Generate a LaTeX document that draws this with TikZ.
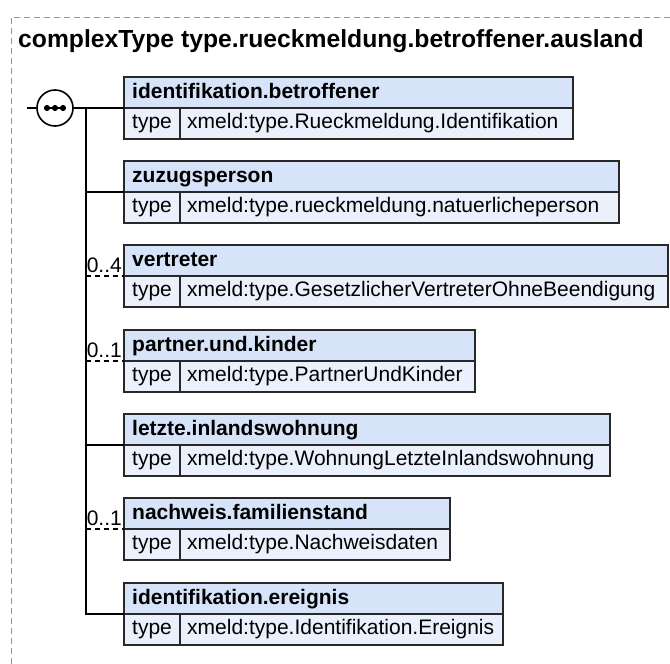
\documentclass[tikz,border=0pt]{standalone}
\usepackage{fontspec}
\setmainfont{Liberation Sans}
\definecolor{hdrfill}{RGB}{214,227,248}
\definecolor{rowfill}{RGB}{234,241,252}
\definecolor{boxline}{RGB}{40,40,40}
\definecolor{framegray}{RGB}{150,150,150}
\newcommand\xsdelem[5]{%
  \node[hdrbox, minimum width={#3-124}, anchor=north west] (#1h) at (124,-#2) {};
  \node[rowbox, minimum width=56, anchor=north west] (#1a) at (#1h.south west) {};
  \node[rowbox, minimum width={#3-180}, anchor=north west] (#1b) at (#1a.north east) {};
  \node[hdrtext] (#1ht) at ([xshift=8,yshift=10]#1h.south west) {#4};
  \node[rowtext] (#1at) at ([xshift=8,yshift=11]#1a.south west) {type};
  \node[rowtext] (#1bt) at ([xshift=7,yshift=11]#1b.south west) {#5};
}
\begin{document}
\begin{tikzpicture}[x=1pt,y=1pt,
  hdrbox/.style={draw=boxline, line width=1.4pt, fill=hdrfill, minimum height=31, inner sep=0, outer sep=0},
  rowbox/.style={draw=boxline, line width=1.4pt, fill=rowfill, minimum height=31, inner sep=0, outer sep=0},
  hdrtext/.style={anchor=base west, inner sep=0, font=\fontsize{21}{25}\selectfont\bfseries},
  rowtext/.style={anchor=base west, inner sep=0, font=\fontsize{21}{25}\selectfont},
  cardtext/.style={anchor=base east, inner sep=0, font=\fontsize{21}{25}\selectfont},
  conn/.style={line width=1.6pt, black},
  optconn/.style={line width=1.4pt, black, dash pattern=on 5pt off 4pt},
]
\useasboundingbox (0,0) rectangle (670,-664);
\draw[framegray, line width=1pt, dash pattern=on 6pt off 4pt] (11,-664) -- (11,-17) -- (670,-17);
\node[anchor=base west, inner sep=0, font=\fontsize{24.7}{29}\selectfont\bfseries] (title) at (18,-47) {complexType type.rueckmeldung.betroffener.ausland};

\xsdelem{e1}{77}{573}{identifikation.betroffener}{xmeld:type.Rueckmeldung.Identifikation}
\xsdelem{e2}{161}{619}{zuzugsperson}{xmeld:type.rueckmeldung.natuerlicheperson}
\xsdelem{e3}{245}{668}{vertreter}{xmeld:type.GesetzlicherVertreterOhneBeendigung}
\xsdelem{e4}{330}{475}{partner.und.kinder}{xmeld:type.PartnerUndKinder}
\xsdelem{e5}{414}{610}{letzte.inlandswohnung}{xmeld:type.WohnungLetzteInlandswohnung}
\xsdelem{e6}{498}{450}{nachweis.familienstand}{xmeld:type.Nachweisdaten}
\xsdelem{e7}{583}{503}{identifikation.ereignis}{xmeld:type.Identifikation.Ereignis}

% sequence compositor
\coordinate (stub) at (27,-108);
\node[circle, draw=black, line width=1.6pt, fill=white, minimum size=36, inner sep=0] (seq) at (55,-108) {};
\draw[line width=2pt] ([xshift=-11]seq.center) -- ([xshift=11]seq.center);
\foreach \dx in {-8,0,8} \fill ([xshift=\dx]seq.center) circle (3.1);
\draw[conn] (stub) -- (seq.west);
\coordinate (t1) at (86,-108);
\coordinate (t7) at (86,-614);
\draw[conn] (seq.east) -- (e1h.south west);
\draw[conn] (t1) -- (t7) -- (e7h.south west);
\coordinate (t2) at (86,-192);
\coordinate (t3) at (86,-276);
\coordinate (t4) at (86,-361);
\coordinate (t5) at (86,-445);
\coordinate (t6) at (86,-529);
\draw[conn] (t2) -- (e2h.south west);
\draw[optconn] (t3) -- (e3h.south west);
\draw[optconn] (t4) -- (e4h.south west);
\draw[conn] (t5) -- (e5h.south west);
\draw[optconn] (t6) -- (e6h.south west);
\node[cardtext] (c3) at ([xshift=-2,yshift=4]e3h.south west) {0..4};
\node[cardtext] (c4) at ([xshift=-2,yshift=4]e4h.south west) {0..1};
\node[cardtext] (c6) at ([xshift=-2,yshift=4]e6h.south west) {0..1};
\end{tikzpicture}
\end{document}
